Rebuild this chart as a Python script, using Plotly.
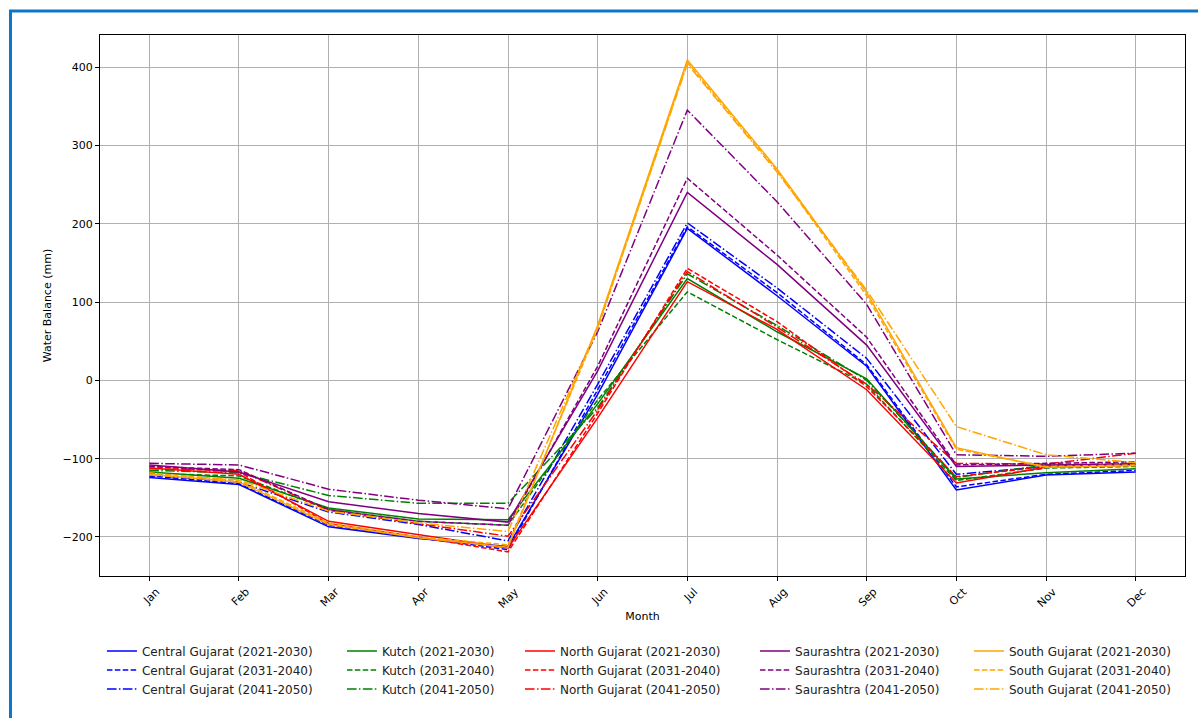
import plotly.graph_objects as go

months = ["Jan", "Feb", "Mar", "Apr", "May", "Jun",
          "Jul", "Aug", "Sep", "Oct", "Nov", "Dec"]

regions = ["Central Gujarat", "Kutch", "North Gujarat", "Saurashtra", "South Gujarat"]
periods = ["2021-2030", "2031-2040", "2041-2050"]

# Monthly water balance (mm) per region and decade
central_2021 = [-124, -133, -187, -202, -212, -18, 194, 108, 18, -140, -121, -117]
central_2031 = [-122, -132, -185, -201, -216, -12, 196, 112, 20, -136, -120, -115]
central_2041 = [-121, -130, -168, -184, -205, -5, 201, 118, 28, -120, -110, -107]

kutch_2021 = [-117, -125, -163, -177, -178, -30, 130, 62, 2, -126, -118, -113]
kutch_2031 = [-119, -122, -165, -180, -185, -25, 113, 52, -5, -128, -112, -110]
kutch_2041 = [-115, -118, -147, -157, -157, -35, 136, 70, 0, -124, -108, -106]

north_2021 = [-112, -120, -180, -197, -214, -48, 126, 65, -12, -131, -111, -108]
north_2031 = [-110, -117, -183, -200, -219, -42, 143, 75, -8, -123, -110, -106]
north_2041 = [-113, -115, -166, -183, -199, -38, 139, 68, -5, -106, -107, -93]

saurashtra_2021 = [-108, -117, -155, -170, -181, 12, 240, 148, 45, -110, -108, -107]
saurashtra_2031 = [-110, -114, -165, -180, -185, 18, 258, 160, 55, -108, -106, -104]
saurashtra_2041 = [-106, -108, -139, -153, -164, 62, 345, 228, 97, -95, -97, -93]

south_2021 = [-120, -130, -184, -201, -213, 70, 409, 270, 112, -86, -111, -109]
south_2031 = [-118, -128, -182, -200, -210, 66, 406, 268, 108, -88, -110, -108]
south_2041 = [-121, -127, -167, -182, -193, 68, 404, 266, 115, -59, -95, -105]

series = {
    "Central Gujarat": [central_2021, central_2031, central_2041],
    "Kutch": [kutch_2021, kutch_2031, kutch_2041],
    "North Gujarat": [north_2021, north_2031, north_2041],
    "Saurashtra": [saurashtra_2021, saurashtra_2031, saurashtra_2041],
    "South Gujarat": [south_2021, south_2031, south_2041],
}

colors = {
    "Central Gujarat": "blue",
    "Kutch": "green",
    "North Gujarat": "red",
    "Saurashtra": "purple",
    "South Gujarat": "orange",
}

# solid, dashed, dash-dot (matplotlib-like dash lengths)
dashes = ["solid", "5.5px,2.4px", "9.6px,2.4px,1.5px,2.4px"]

# one legend column per region
legend_ids = ["legend", "legend2", "legend3", "legend4", "legend5"]
legend_x = [0.0018, 0.2230, 0.3871, 0.6037, 0.8009]

fig = go.Figure()
for r_i, region in enumerate(regions):
    for p_i, period in enumerate(periods):
        fig.add_trace(go.Scatter(
            x=list(range(len(months))),
            y=series[region][p_i],
            mode="lines",
            name=f"{region} ({period})",
            line=dict(color=colors[region], width=1.5, dash=dashes[p_i]),
            legend=legend_ids[r_i],
        ))

axis_font = dict(family="DejaVu Sans", size=11, color="black")

layout_legends = {}
for r_i, lid in enumerate(legend_ids):
    layout_legends[lid] = dict(
        x=legend_x[r_i], y=-0.112, xanchor="left", yanchor="top",
        orientation="v", bgcolor="rgba(0,0,0,0)",
        font=dict(family="DejaVu Sans", size=12, color="#222"),
        tracegroupgap=0,
    )

fig.update_layout(
    width=1198, height=718,
    margin=dict(l=100, r=13, t=35, b=142),
    paper_bgcolor="white", plot_bgcolor="white",
    font=dict(family="DejaVu Sans", size=11, color="black"),
    **layout_legends,
    xaxis=dict(
        range=[-0.55, 11.55],
        tickmode="array",
        tickvals=list(range(len(months))),
        ticktext=months,
        tickangle=-45,
        ticklabelshift=7,
        tickfont=axis_font,
        ticks="outside", ticklen=4, tickcolor="black", tickwidth=1,
        showgrid=True, gridcolor="#b0b0b0", gridwidth=1,
        showline=True, linecolor="black", linewidth=1, mirror=True,
        zeroline=False,
        title=dict(text="Month", font=axis_font, standoff=2),
    ),
    yaxis=dict(
        range=[-249.8, 440.9],
        tickvals=[-200, -100, 0, 100, 200, 300, 400],
        tickfont=axis_font,
        ticks="outside", ticklen=4, tickcolor="black", tickwidth=1,
        showgrid=True, gridcolor="#b0b0b0", gridwidth=1,
        showline=True, linecolor="black", linewidth=1, mirror=True,
        zeroline=False,
        title=dict(text="Water Balance (mm)", font=axis_font, standoff=8),
    ),
    shapes=[dict(
        type="rect", xref="paper", yref="paper",
        x0=-0.0825, x1=1.02, y0=-0.27, y1=1.0444,
        line=dict(color="#0b77c9", width=3),
        fillcolor="rgba(0,0,0,0)", layer="above",
    )],
)

fig.write_html("out.html")
